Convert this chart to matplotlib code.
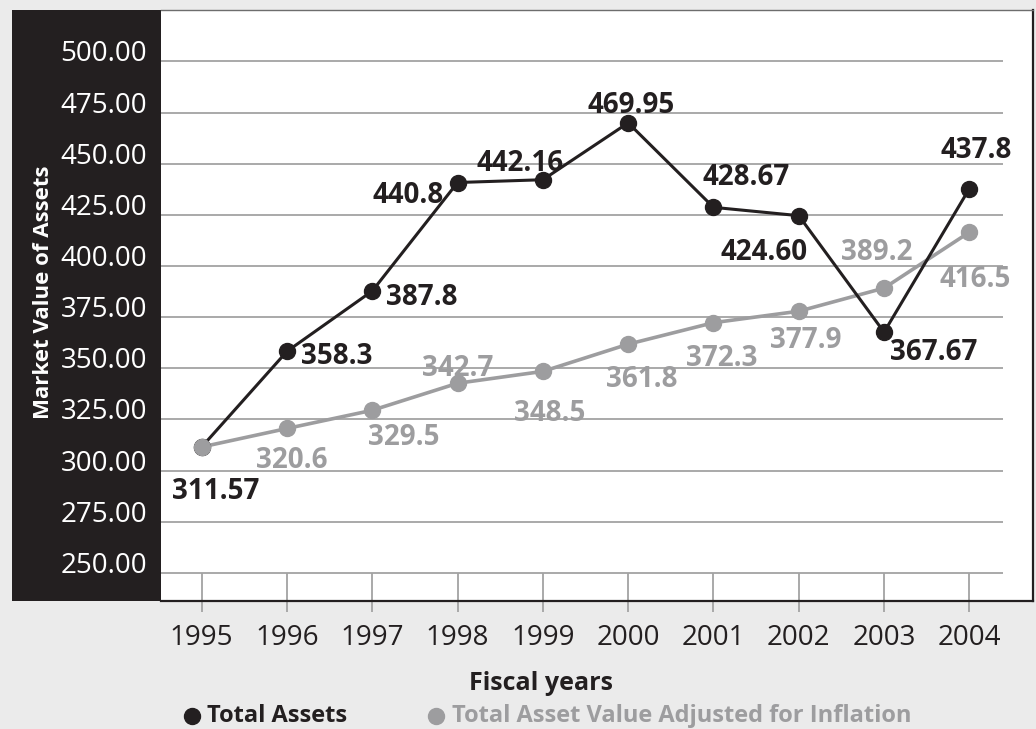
import matplotlib.pyplot as plt
from matplotlib.patches import Rectangle
from matplotlib.lines import Line2D

plt.rcParams['font.family'] = ['Open Sans', 'DejaVu Sans']

years = ['1995', '1996', '1997', '1998', '1999', '2000', '2001', '2002', '2003', '2004']
total_assets = [311.57, 358.3, 387.8, 440.8, 442.16, 469.95, 428.67, 424.60, 367.67, 437.8]
total_labels = ['311.57', '358.3', '387.8', '440.8', '442.16', '469.95', '428.67', '424.60', '367.67', '437.8']
adjusted = [311.57, 320.6, 329.5, 342.7, 348.5, 361.8, 372.3, 377.9, 389.2, 416.5]
adjusted_labels = [None, '320.6', '329.5', '342.7', '348.5', '361.8', '372.3', '377.9', '389.2', '416.5']
y_ticks = [250, 275, 300, 325, 350, 375, 400, 425, 450, 475, 500]

BLACK = '#231f20'
GREY = '#9d9d9f'
GRID = '#a3a3a3'

# label placement: (dx, dy) in pixels, right/down positive, plus alignment
total_offsets = [(14, 42, 'center'), (14, 3, 'left'), (14, 4, 'left'), (-14, 10, 'right'),
                 (-23, -19, 'center'), (3, -20, 'center'), (33, -32, 'center'),
                 (-35, 34, 'center'), (50, 18, 'center'), (7, -41, 'center')]
adjusted_offsets = [None, (5, 30), (31, 25), (0, -17), (7, 40), (14, 33), (8, 33),
                    (7, 27), (-7, -38), (6, 45)]

W, H = 1036, 729
fig = plt.figure(figsize=(W / 100, H / 100), dpi=100, facecolor='#ebebeb')
ax = fig.add_axes([161 / W, 1 - 601 / H, 872 / W, 591 / H])

# dark panel behind the value axis
fig.add_artist(Rectangle((12 / W, 1 - 601 / H), 149 / W, 591 / H,
                         transform=fig.transFigure, facecolor=BLACK,
                         edgecolor='none', zorder=-1))

xs = list(range(len(years)))
x_lo, x_hi = -0.477, 9.746
y_lo, y_hi = 236.3, 525.1
ax.set_xlim(x_lo, x_hi)
ax.set_ylim(y_lo, y_hi)

ax.hlines(y_ticks, x_lo, 9.394, color=GRID, lw=1.3, zorder=1)
ax.vlines(xs, y_lo, y_ticks[0], color=GRID, lw=1.3, zorder=1)

ax.plot(xs, adjusted, color=GREY, lw=2.6, marker='o', ms=11.5, zorder=3)
ax.plot(xs, total_assets, color=BLACK, lw=2.2, marker='o', ms=11.5, zorder=4)
ax.plot(xs[0], adjusted[0], 'o', color=GREY, ms=11.5, zorder=5)

for i, (v, lab) in enumerate(zip(total_assets, total_labels)):
    dx, dy, ha = total_offsets[i]
    ax.annotate(lab, (i, v), xytext=(dx, -(dy + 10)), textcoords='offset pixels',
                ha=ha, va='baseline', fontsize=20, fontweight='bold', color=BLACK,
                zorder=6)

for i, (v, lab) in enumerate(zip(adjusted, adjusted_labels)):
    if lab is None:
        continue
    dx, dy = adjusted_offsets[i]
    ax.annotate(lab, (i, v), xytext=(dx, -(dy + 10)), textcoords='offset pixels',
                ha='center', va='baseline', fontsize=20, fontweight='bold', color=GREY,
                zorder=6)

ax.set_xticks(xs, labels=years)
ax.tick_params(axis='x', direction='out', length=7.9, width=1.3, color=GRID,
               pad=8.6, labelsize=20, labelcolor=BLACK)
ax.set_yticks(y_ticks, labels=[f'{v:.2f}' for v in y_ticks])
ax.tick_params(axis='y', length=0, pad=10, labelsize=20, labelcolor='white')
for t in ax.get_yticklabels():
    t.set_verticalalignment('baseline')

ax.spines['left'].set_visible(False)
ax.spines['top'].set_color('#6d6d6d')
ax.spines['top'].set_linewidth(1.0)
for side in ('right', 'bottom'):
    ax.spines[side].set_color(BLACK)
    ax.spines[side].set_linewidth(1.6)

fig.text(44 / W, 1 - 292.5 / H, 'Market Value of Assets', rotation=90,
         ha='center', va='center', fontsize=16, fontweight='bold', color='white')
fig.text(541 / W, 1 - 690 / H, 'Fiscal years', ha='center', va='baseline',
         fontsize=18, fontweight='bold', color=BLACK)

# legend row
fig.add_artist(Line2D([192 / W], [1 - 716 / H], marker='o', ms=11.5, ls='none',
                      color=BLACK, transform=fig.transFigure))
fig.text(207 / W, 1 - 722 / H, 'Total Assets', va='baseline',
         fontsize=17, fontweight='bold', color=BLACK)
fig.add_artist(Line2D([436 / W], [1 - 716 / H], marker='o', ms=11.5, ls='none',
                      color=GREY, transform=fig.transFigure))
fig.text(452 / W, 1 - 722 / H, 'Total Asset Value Adjusted for Inflation', va='baseline',
         fontsize=17, fontweight='bold', color=GREY)

fig.savefig('out.png', dpi=100, facecolor=fig.get_facecolor())
